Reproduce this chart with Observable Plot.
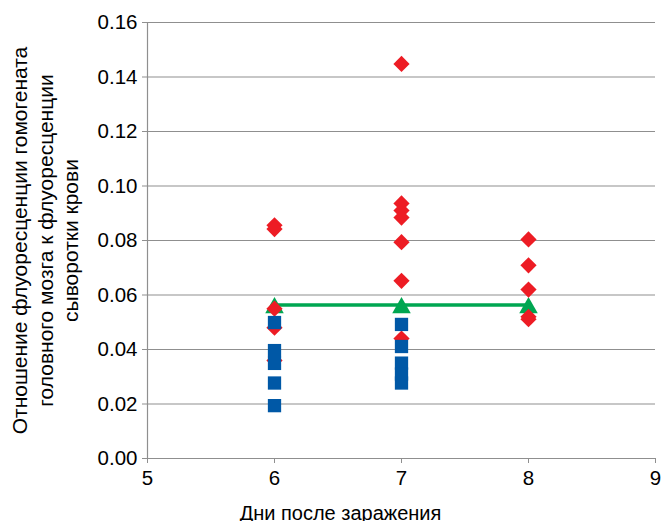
<!DOCTYPE html>
<html>
<head>
<meta charset="utf-8">
<script src="https://cdn.jsdelivr.net/npm/d3@7"></script>
<script src="https://cdn.jsdelivr.net/npm/@observablehq/plot@0.6"></script>
<style>
  html, body { margin: 0; padding: 0; background: #fff; }
</style>
</head>
<body>
<div id="chart"></div>
<script>
// Days after infection (x), ratio values (y)
const xTicks = [5, 6, 7, 8, 9];
const yTicks = [0, 0.02, 0.04, 0.06, 0.08, 0.10, 0.12, 0.14, 0.16];

// Red diamonds series
const redDays   = [6, 6, 6, 6, 6, 7, 7, 7, 7, 7, 7, 7, 8, 8, 8, 8, 8];
const redValues = [0.0856, 0.0842, 0.0550, 0.0480, 0.0360,
                   0.1448, 0.0936, 0.0910, 0.0884, 0.0794, 0.0652, 0.0440,
                   0.0804, 0.0709, 0.0620, 0.0520, 0.0511];

// Blue squares series
const blueDays   = [6, 6, 6, 6, 6, 7, 7, 7, 7, 7];
const blueValues = [0.0499, 0.0396, 0.0349, 0.0277, 0.0194,
                    0.0492, 0.0411, 0.0350, 0.0310, 0.0277];

// Green triangles + line
const greenDays   = [6, 7, 8];
const greenValues = [0.0563, 0.0563, 0.0563];

const xLabel = "Дни после заражения";
const yLabel = "Отношение флуоресценции гомогената\nголовного мозга к флуоресценции\nсыворотки крови";

const red = redDays.map((d, i) => ({x: d, y: redValues[i]}));
const blue = blueDays.map((d, i) => ({x: d, y: blueValues[i]}));
const green = greenDays.map((d, i) => ({x: d, y: greenValues[i]}));

const gridColor = "#8f8f8f";
const fmtY = d3.format(".2f");

const chart = Plot.plot({
  width: 661,
  height: 521,
  marginLeft: 147,
  marginRight: 6,
  marginTop: 22,
  marginBottom: 63,
  style: {fontFamily: "'Liberation Sans', Arial, sans-serif", fontSize: "20px", background: "#fff", color: "#000", overflow: "visible"},
  x: {domain: [5, 9], label: null},
  y: {domain: [0, 0.16], label: null},
  marks: [
    Plot.gridY(yTicks, {stroke: gridColor, strokeOpacity: 1, strokeWidth: 1.2}),
    Plot.axisY(yTicks, {tickSize: 5, tickPadding: 5, stroke: gridColor, fill: "#000", tickFormat: fmtY, label: null, fontSize: 20.5}),
    Plot.axisX(xTicks, {tickSize: 5, tickPadding: 7, stroke: gridColor, fill: "#000", tickFormat: d => String(d), label: null, fontSize: 20.5}),
    Plot.ruleX([5], {stroke: gridColor, strokeWidth: 1.2}),
    Plot.ruleY([0], {stroke: gridColor, strokeWidth: 1.2}),
    Plot.line(green, {x: "x", y: "y", stroke: "#00a651", strokeWidth: 3.5}),
    Plot.dot(green, {x: "x", y: "y", symbol: "triangle", r: 6.9, fill: "#00a651", stroke: null, dy: 2.7}),
    Plot.dot(red, {x: "x", y: "y", symbol: "diamond2", r: 7.3, fill: "#ed1c24", stroke: null}),
    Plot.dot(blue, {x: "x", y: "y", symbol: "square", r: 7.5, fill: "#0058a6", stroke: null}),
    Plot.text([yLabel], {frameAnchor: "left", dx: -103, rotate: -90, textAnchor: "middle", lineAnchor: "middle", lineHeight: 1.2, fontSize: 21, fill: "#000"}),
    Plot.text([xLabel], {frameAnchor: "bottom", dx: -61, dy: 61, textAnchor: "middle", lineAnchor: "bottom", fontSize: 20, fill: "#000"})
  ]
});
document.getElementById("chart").appendChild(chart);
</script>
</body>
</html>
